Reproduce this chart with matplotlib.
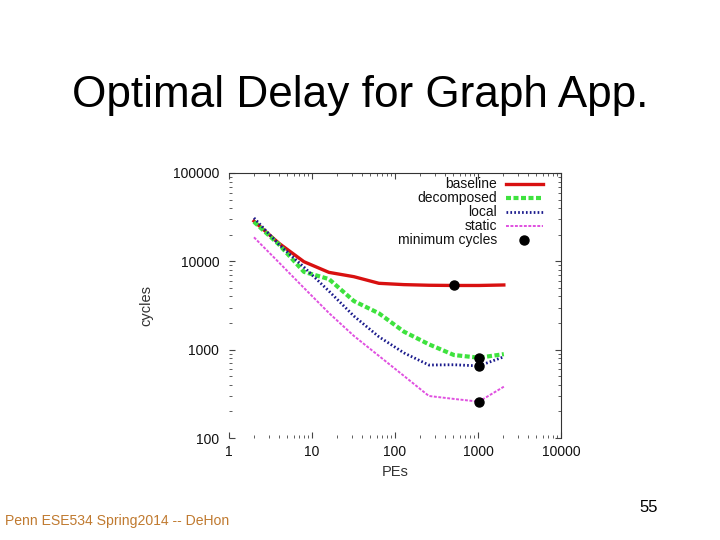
import matplotlib
matplotlib.use("Agg")
import matplotlib.pyplot as plt
from matplotlib.lines import Line2D
from matplotlib.ticker import LogLocator, NullFormatter, FixedLocator, FixedFormatter

plt.rcParams['font.family'] = ['Liberation Sans', 'DejaVu Sans']

# ---- data ----
pes = [2, 4, 8, 16, 32, 64, 128, 256, 512, 1024, 2048]
baseline = [28500, 16000, 9900, 7500, 6700, 5640, 5450, 5360, 5330, 5330, 5400]
decomposed = [28000, 15500, 7600, 6300, 3550, 2580, 1600, 1150, 870, 811, 890]
local = [31000, 15500, 8600, 4600, 2400, 1400, 920, 670, 675, 655, 830]
static = [18700, 9700, 5000, 2600, 1430, 850, 505, 299, 277, 258, 381]
min_x = [512, 1024, 1024, 1024]
min_y = [5330, 811, 655, 258]

series_names = ["baseline", "decomposed", "local", "static", "minimum cycles"]
xticks = [1, 10, 100, 1000, 10000]
yticks = [100, 1000, 10000, 100000]
tick_labels_x = ["1", "10", "100", "1000", "10000"]
tick_labels_y = ["100", "1000", "10000", "100000"]

title = "Optimal Delay for Graph App."
footer = "Penn ESE534 Spring2014 -- DeHon"
page = "55"

# ---- figure ----
fig = plt.figure(figsize=(7.2, 5.4), dpi=100)
ax = fig.add_axes([229/720, 1-438/540, (561-229)/720, (438-173)/540])

styles = [
    dict(color="#d81010", lw=2.4, ls="-"),
    dict(color="#3ee23e", lw=3.0, ls=(0, (1.2, 0.6))),
    dict(color="#1a1a8c", lw=2.0, ls=(0, (0.6, 0.8))),
    dict(color="#e050e0", lw=1.4, ls=(0, (1.5, 0.8))),
]
data = [baseline, decomposed, local, static]
for ys, st in zip(data, styles):
    ax.plot(pes, ys, **st)
ax.plot(min_x, min_y, 'o', color='black', ms=6.5, zorder=5)

ax.set_xscale('log')
ax.set_yscale('log')
ax.set_xlim(1, 10000)
ax.set_ylim(100, 100000)
ax.xaxis.set_major_locator(FixedLocator(xticks))
ax.xaxis.set_major_formatter(FixedFormatter(tick_labels_x))
ax.yaxis.set_major_locator(FixedLocator(yticks))
ax.yaxis.set_major_formatter(FixedFormatter(tick_labels_y))
ax.xaxis.set_minor_locator(LogLocator(base=10, subs=range(2, 10)))
ax.yaxis.set_minor_locator(LogLocator(base=10, subs=range(2, 10)))
ax.xaxis.set_minor_formatter(NullFormatter())
ax.yaxis.set_minor_formatter(NullFormatter())
ax.tick_params(which='both', direction='in', top=True, right=True,
               labelsize=10, colors='#444444', labelcolor='#111111')
ax.tick_params(which='major', length=4, width=0.8, pad=7)
ax.tick_params(axis='x', which='major', pad=5)
ax.tick_params(which='minor', length=2, width=0.6)
for s in ['left', 'bottom']:
    ax.spines[s].set_visible(False)
for s in ['top', 'right']:
    ax.spines[s].set_linewidth(0.8)
    ax.spines[s].set_color('#333333')

ax.set_xlabel("PEs", fontsize=10.5, color='#333333', labelpad=4)
ax.set_ylabel("cycles", fontsize=10.5, color='#333333', labelpad=14)

# ---- gnuplot-style legend (text right aligned, sample to the right) ----
def fx(px):
    return (px - 229) / (561 - 229)

def fy(py):
    return (438 - py) / (438 - 173)

rows = [184, 198, 212, 226, 240]
for i, name in enumerate(series_names):
    ax.text(fx(497), fy(rows[i]), name, transform=ax.transAxes, ha='right',
            va='center', fontsize=10, color='#111111')
    if i < 4:
        ax.add_line(Line2D([fx(506), fx(543)], [fy(rows[i])] * 2,
                           transform=ax.transAxes, **styles[i]))
    else:
        ax.add_line(Line2D([fx(524)], [fy(rows[i])], transform=ax.transAxes,
                           marker='o', color='black', ms=6.5, ls='none'))

fig.text(360/720, 1-95/540, title, ha='center', va='center', fontsize=31.8)
fig.text(5/720, 1-521/540, footer, ha='left', va='center', fontsize=10.1,
         color='#c07a30')
fig.text(649/720, 1-508/540, page, ha='center', va='center', fontsize=12)

fig.savefig("out.png", dpi=100)
